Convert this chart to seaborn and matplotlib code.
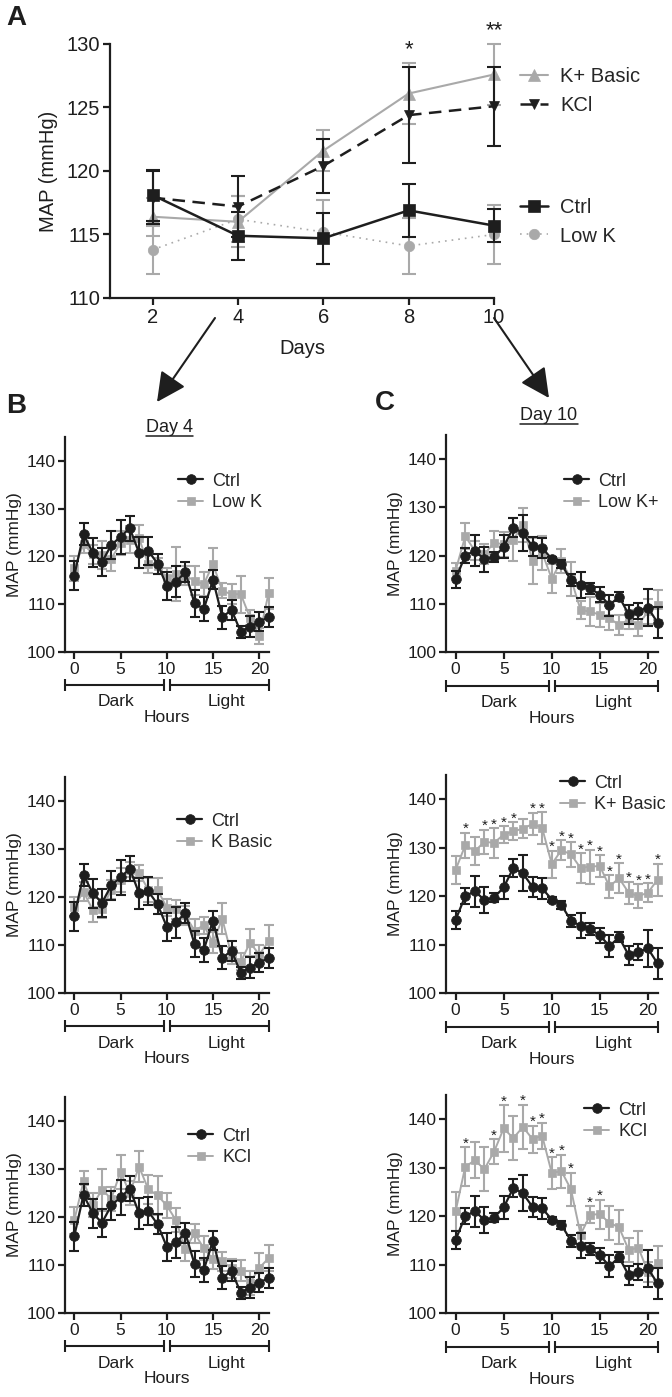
import numpy as np
import pandas as pd
import matplotlib
matplotlib.use("Agg")
import matplotlib.pyplot as plt
import matplotlib.transforms as mtrans
from matplotlib.patches import FancyArrowPatch
from matplotlib.lines import Line2D
import seaborn as sns

sns.set_theme(style="ticks")
plt.rcParams['font.family'] = ['Liberation Sans', 'DejaVu Sans']

BLACK = '#1e1e1e'
GREY = '#a9a9a9'
W, H = 672, 1397

# ---- panel A: MAP by day
days = [2, 4, 6, 8, 10]
a_ctrl = [118.1, 114.9, 114.7, 116.9, 115.7]
a_ctrl_err = [2.0, 1.9, 2.0, 2.1, 1.3]
a_kcl = [117.9, 117.2, 120.4, 124.4, 125.1]
a_kcl_err = [2.1, 2.4, 2.1, 3.8, 3.1]
a_kbasic = [116.4, 116.0, 121.6, 126.1, 127.6]
a_kbasic_err = [1.5, 2.0, 1.6, 2.4, 2.4]
a_lowk = [113.8, 116.2, 115.2, 114.1, 115.0]
a_lowk_err = [1.9, 1.8, 2.5, 2.2, 2.3]
a_star_days = [8, 10]
a_star_text = ['*', '**']

# ---- panels B/C: hourly MAP
hours = list(range(22))
b_ctrl = [116.0, 124.6, 120.8, 118.8, 122.4, 124.1, 125.9, 120.8, 121.2, 118.5, 113.8,
          114.7, 116.7, 110.2, 109.0, 115.1, 107.3, 108.8, 104.2, 105.3, 106.3, 107.3]
b_ctrl_err = [3.0, 2.3, 3.0, 2.9, 3.0, 3.6, 2.6, 3.2, 2.9, 2.1, 2.9,
              3.2, 2.1, 2.8, 2.5, 2.0, 2.4, 2.1, 1.2, 2.2, 2.0, 2.1]
b_lowk = [117.5, 122.6, 120.5, 120.3, 119.5, 122.8, 123.5, 123.8, 118.4, 118.0, 115.5,
          116.3, 116.0, 114.9, 114.2, 118.4, 112.8, 112.1, 112.1, 107.2, 103.3, 112.3]
b_lowk_err = [2.6, 1.8, 2.0, 3.0, 2.5, 2.5, 2.8, 2.8, 1.8, 1.6, 2.0,
              5.6, 2.0, 3.0, 2.5, 3.3, 1.6, 2.1, 3.9, 1.5, 1.7, 3.2]
b_kbasic = [118.0, 121.1, 117.3, 117.6, 121.5, 123.6, 125.7, 125.0, 121.5, 121.5, 117.8,
            117.4, 116.2, 113.0, 114.1, 110.5, 115.5, 107.8, 106.5, 110.5, 108.0, 110.8]
b_kbasic_err = [2.0, 2.0, 2.5, 2.0, 2.0, 2.5, 1.5, 1.6, 2.5, 2.5, 1.8,
                2.0, 2.0, 2.5, 1.8, 2.2, 3.2, 1.8, 1.8, 2.8, 2.0, 3.4]
b_kcl = [119.3, 127.4, 122.5, 125.7, 123.8, 129.4, 125.0, 130.5, 125.8, 124.5, 122.4,
         119.3, 113.3, 116.6, 113.5, 111.2, 110.8, 109.3, 108.8, 106.3, 109.4, 111.4]
b_kcl_err = [2.8, 2.2, 2.5, 4.4, 2.5, 3.5, 2.5, 3.2, 3.0, 4.1, 2.6,
             2.5, 2.5, 2.0, 2.5, 2.0, 2.0, 2.0, 2.2, 2.5, 3.2, 2.7]

c_ctrl = [115.1, 120.0, 121.0, 119.2, 119.7, 121.8, 125.8, 124.7, 121.9, 121.6, 119.3,
          118.2, 114.9, 113.9, 113.2, 111.9, 109.7, 111.5, 107.8, 108.5, 109.2, 106.1]
c_ctrl_err = [1.8, 1.6, 3.2, 2.6, 1.0, 2.4, 1.9, 3.7, 2.0, 2.1, 0.5,
              0.8, 1.2, 2.6, 1.2, 1.5, 2.2, 1.0, 2.0, 1.7, 3.8, 3.2]
c_lowk = [116.9, 124.0, 121.0, 120.3, 122.7, 122.3, 123.3, 126.4, 118.9, 120.6, 115.2,
          118.9, 115.2, 108.7, 108.4, 107.7, 107.0, 105.6, 106.7, 105.6, 108.4, 109.7]
c_lowk_err = [1.5, 2.7, 2.0, 2.0, 2.4, 2.5, 4.5, 3.5, 4.8, 3.5, 3.0,
              2.5, 3.5, 1.8, 3.0, 2.5, 2.5, 2.0, 2.0, 2.2, 2.5, 3.1]
c_kbasic = [125.4, 130.5, 129.3, 131.2, 131.0, 132.7, 133.4, 133.9, 134.9, 134.1, 126.6,
            129.5, 128.6, 125.8, 126.1, 126.2, 122.0, 123.7, 120.7, 120.0, 120.7, 123.4]
c_kbasic_err = [2.8, 2.6, 2.8, 2.5, 3.1, 1.7, 1.8, 2.0, 2.3, 3.3, 2.8,
                2.0, 2.5, 3.0, 3.5, 2.2, 2.3, 3.1, 2.3, 2.4, 2.0, 3.3]
c_kbasic_stars = [1, 3, 4, 5, 6, 8, 9, 10, 11, 12, 13, 14, 15, 16, 17, 18, 19, 20, 21]
c_kcl = [121.0, 130.2, 131.5, 129.7, 133.3, 138.1, 136.1, 138.4, 135.9, 136.6, 128.9,
         129.3, 125.5, 116.2, 120.3, 120.4, 118.6, 117.7, 113.0, 113.5, 108.5, 110.3]
c_kcl_err = [4.0, 4.0, 3.7, 4.5, 2.6, 4.8, 4.5, 4.6, 2.8, 2.7, 3.3,
             3.4, 3.5, 2.0, 1.8, 3.0, 3.5, 3.5, 2.5, 3.4, 2.0, 3.5]
c_kcl_stars = [1, 4, 5, 7, 8, 9, 10, 11, 12, 14, 15]

phase_names = ['Dark', 'Light']
phase_spans = [(-1.0, 9.75), (10.35, 21.05)]
phase_label_x = [4.5, 16.4]


def px_box(l, t, r, b):
    return [l / W, 1 - b / H, (r - l) / W, (b - t) / H]


def style_axis(ax, fs):
    sns.despine(ax=ax)
    for s in ['left', 'bottom']:
        ax.spines[s].set_linewidth(1.6)
        ax.spines[s].set_color(BLACK)
    ax.tick_params(direction='out', length=5, width=1.6, color=BLACK,
                   labelsize=fs, labelcolor=BLACK, pad=2)


def unclip(ax):
    for art in ax.lines + ax.collections:
        art.set_clip_on(False)


def series(ax, x, y, err, color, marker, ms, lw, ls, label, z, capsize):
    ax.errorbar(x, y, yerr=err, fmt='none', ecolor=color, elinewidth=1.5,
                capsize=capsize, capthick=1.5, zorder=z)
    sns.lineplot(x=x, y=y, color=color, marker=marker, markersize=ms,
                 markeredgecolor=color, markeredgewidth=0.5, linewidth=lw,
                 linestyle=ls, errorbar=None, label=label, ax=ax, zorder=z + 1)


fig = plt.figure(figsize=(W / 100, H / 100), dpi=100)

# ---------------- panel A
axA = fig.add_axes(px_box(110, 44, 494, 298))
series(axA, days, a_ctrl, a_ctrl_err, BLACK, 's', 8, 1.8, '-', 'Ctrl', 6, 5)
series(axA, days, a_kbasic, a_kbasic_err, GREY, '^', 8, 1.5, '-', 'K+ Basic', 4, 5)
series(axA, days, a_kcl, a_kcl_err, BLACK, 'v', 7.5, 1.8, (0, (5, 3)), 'KCl', 8, 5)
series(axA, days, a_lowk, a_lowk_err, GREY, 'o', 7.5, 1.2, (0, (1, 3)), 'Low K', 2, 5)
axA.set_xlim(1, 10)
axA.set_ylim(110, 130)
axA.set_xticks(days)
axA.set_yticks([110, 115, 120, 125, 130])
axA.set_xlabel('Days', fontsize=14.5, labelpad=9, color=BLACK)
axA.set_ylabel('MAP (mmHg)', fontsize=14.5, labelpad=6, color=BLACK)
style_axis(axA, 14.5)
for d, s in zip(a_star_days, a_star_text):
    i = days.index(d)
    axA.text(d, a_kbasic[i] + a_kbasic_err[i] + 0.6, s, ha='center', va='baseline',
             fontsize=16, color=BLACK)
unclip(axA)
hA = {l: h for h, l in zip(*axA.get_legend_handles_labels())}
lgA1 = axA.legend([hA['K+ Basic'], hA['KCl']], ['K+ Basic', 'KCl'], loc='center left',
                  bbox_to_anchor=(520 / W, 1 - 91 / H), bbox_transform=fig.transFigure,
                  frameon=False, fontsize=14.5, handlelength=1.4, handletextpad=0.6,
                  labelspacing=0.5, borderpad=0, borderaxespad=0)
axA.add_artist(lgA1)
axA.legend([hA['Ctrl'], hA['Low K']], ['Ctrl', 'Low K'], loc='center left',
           bbox_to_anchor=(520 / W, 1 - 222 / H), bbox_transform=fig.transFigure,
           frameon=False, fontsize=14.5, handlelength=1.4, handletextpad=0.6,
           labelspacing=0.45, borderpad=0, borderaxespad=0)


# ---------------- panels B and C
def hourly_panel(box, treat, treat_err, treat_name, ctrl, ctrl_err, leg_xy, stars=()):
    ax = fig.add_axes(px_box(*box))
    series(ax, hours, treat, treat_err, GREY, 's', 6, 1.4, '-', treat_name, 2, 3.3)
    series(ax, hours, ctrl, ctrl_err, BLACK, 'o', 7, 1.6, '-', 'Ctrl', 4, 3.3)
    for h in stars:
        ax.text(h, treat[h] + treat_err[h] - 0.1, '*', ha='center', va='baseline',
                fontsize=11, color=BLACK)
    ax.set_xlim(-1.0, 21.05)
    ax.set_ylim(100, 145)
    ax.set_xticks([0, 5, 10, 15, 20])
    ax.set_yticks([100, 110, 120, 130, 140])
    ax.set_xlabel('')
    ax.set_ylabel('MAP (mmHg)', fontsize=12.5, labelpad=3, color=BLACK)
    style_axis(ax, 12.5)
    unclip(ax)
    hd = {l: h for h, l in zip(*ax.get_legend_handles_labels())}
    ax.legend([hd['Ctrl'], hd[treat_name]], ['Ctrl', treat_name], loc='center left',
              bbox_to_anchor=(leg_xy[0] / W, 1 - leg_xy[1] / H),
              bbox_transform=fig.transFigure, frameon=False, fontsize=13,
              handlelength=1.4, handletextpad=0.5, labelspacing=0.25,
              borderpad=0, borderaxespad=0)
    # dark / light brackets under the x axis
    trans = mtrans.blended_transform_factory(ax.transData, ax.transAxes)
    for (x0, x1), name, tx in zip(phase_spans, phase_names, phase_label_x):
        ax.plot([x0, x1], [-0.155, -0.155], transform=trans, color=BLACK, lw=1.5,
                marker='|', markersize=8, markeredgewidth=1.5, clip_on=False)
        ax.text(tx, -0.232, name, transform=trans, ha='center', va='center',
                fontsize=12.5, color=BLACK)
    ax.text(0.5, -0.305, 'Hours', transform=ax.transAxes, ha='center', va='center',
            fontsize=12.5, color=BLACK)
    return ax


hourly_panel((65, 437, 269, 652), b_lowk, b_lowk_err, 'Low K', b_ctrl, b_ctrl_err, (178, 492))
hourly_panel((65, 777, 269, 993), b_kbasic, b_kbasic_err, 'K Basic', b_ctrl, b_ctrl_err, (177, 832))
hourly_panel((65, 1097, 269, 1313), b_kcl, b_kcl_err, 'KCl', b_ctrl, b_ctrl_err, (188, 1147))
hourly_panel((446, 435, 658, 652), c_lowk, c_lowk_err, 'Low K+', c_ctrl, c_ctrl_err, (564, 492))
hourly_panel((446, 775, 658, 993), c_kbasic, c_kbasic_err, 'K+ Basic', c_ctrl, c_ctrl_err,
             (560, 794), c_kbasic_stars)
hourly_panel((446, 1095, 658, 1313), c_kcl, c_kcl_err, 'KCl', c_ctrl, c_ctrl_err,
             (584, 1121), c_kcl_stars)

# ---------------- letters, headers, arrows
for letter, (x, y) in zip('ABC', [(16, 18), (16, 406), (385, 403)]):
    fig.text(x / W, 1 - y / H, letter, ha='center', va='center', fontsize=20,
             fontweight='bold', color=BLACK)

day_titles = [fig.text(169 / W, 1 - 428 / H, 'Day 4', ha='center', va='center',
                       fontsize=13, color=BLACK),
              fig.text(549 / W, 1 - 416 / H, 'Day 10', ha='center', va='center',
                       fontsize=13, color=BLACK)]
fig.canvas.draw()
inv = fig.transFigure.inverted()
for t in day_titles:
    bb = t.get_window_extent()
    (x0, y0), (x1, _) = inv.transform([(bb.x0, bb.y0 + 1), (bb.x1, bb.y0 + 1)])
    fig.add_artist(Line2D([x0, x1], [y0, y0], transform=fig.transFigure,
                          color=BLACK, lw=1.1))

for (xa, ya), (xb, yb) in [((215, 318), (157, 402)), ((494, 318), (549, 398))]:
    fig.add_artist(FancyArrowPatch((xa / W, 1 - ya / H), (xb / W, 1 - yb / H),
                                   transform=fig.transFigure,
                                   arrowstyle='-|>,head_length=0.9,head_width=0.45',
                                   mutation_scale=20, lw=1.5, color=BLACK,
                                   shrinkA=0, shrinkB=0))

fig.savefig('out.png', dpi=100)
